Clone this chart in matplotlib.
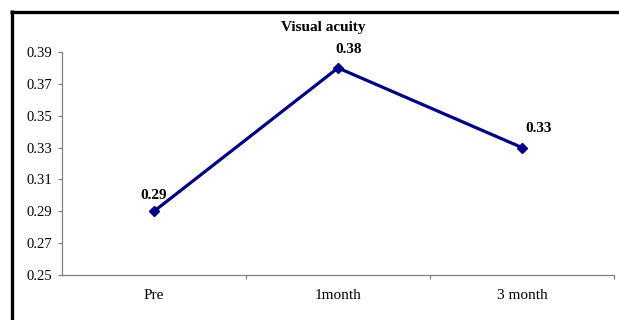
import matplotlib.pyplot as plt
from matplotlib.lines import Line2D

plt.rcParams['font.family'] = ['Liberation Serif', 'DejaVu Serif']

periods = ['Pre', '1month', '3 month']
acuity = [0.29, 0.38, 0.33]
yticks = [0.25, 0.27, 0.29, 0.31, 0.33, 0.35, 0.37, 0.39]
# label offsets in points (dx, dy)
label_offsets = [(0, 11.5), (8, 13.5), (12, 13.5)]

fig = plt.figure(figsize=(6.19, 3.2), dpi=100)
ax = fig.add_axes([62 / 619, 1 - 275 / 320, 552 / 619, 223 / 320])

x = list(range(len(periods)))
ax.plot(x, acuity, color='#000080', linewidth=2.3, marker='D', markersize=5.5,
        clip_on=False)

for xi, val, (dx, dy) in zip(x, acuity, label_offsets):
    ax.annotate('%.2f' % val, (xi, val), xytext=(dx, dy), textcoords='offset points',
                ha='center', va='center', fontsize=11, fontweight='bold')

ax.set_xlim(-0.5, len(periods) - 0.5)
ax.set_ylim(0.25, 0.39)
ax.set_yticks(yticks)
ax.set_yticklabels(['%.2f' % t for t in yticks])
ax.set_xticks(x)
ax.set_xticklabels(periods)
ax.set_xticks([0.5, 1.5, 2.5], minor=True)

for side in ['top', 'right']:
    ax.spines[side].set_visible(False)
for side in ['left', 'bottom']:
    ax.spines[side].set_color('#808080')
    ax.spines[side].set_linewidth(0.9)

ax.tick_params(axis='y', length=3, width=0.9, color='#808080', pad=4, labelsize=10.5)
ax.tick_params(axis='x', which='major', length=0, pad=10, labelsize=11)
ax.tick_params(axis='x', which='minor', length=3, width=0.9, color='#808080')

fig.text(323 / 619, 1 - 28 / 320, 'Visual acuity', ha='center', va='center',
         fontsize=11, fontweight='bold')

# outer box, only the top and left edges fall inside the canvas
fig.add_artist(Line2D([10 / 619, 1.0], [1 - 11.5 / 320] * 2, color='black',
                      linewidth=2.4, solid_capstyle='butt', transform=fig.transFigure))
fig.add_artist(Line2D([11.5 / 619] * 2, [0.0, 1 - 10 / 320], color='black',
                      linewidth=2.4, solid_capstyle='butt', transform=fig.transFigure))

fig.savefig('out.png', dpi=100)
